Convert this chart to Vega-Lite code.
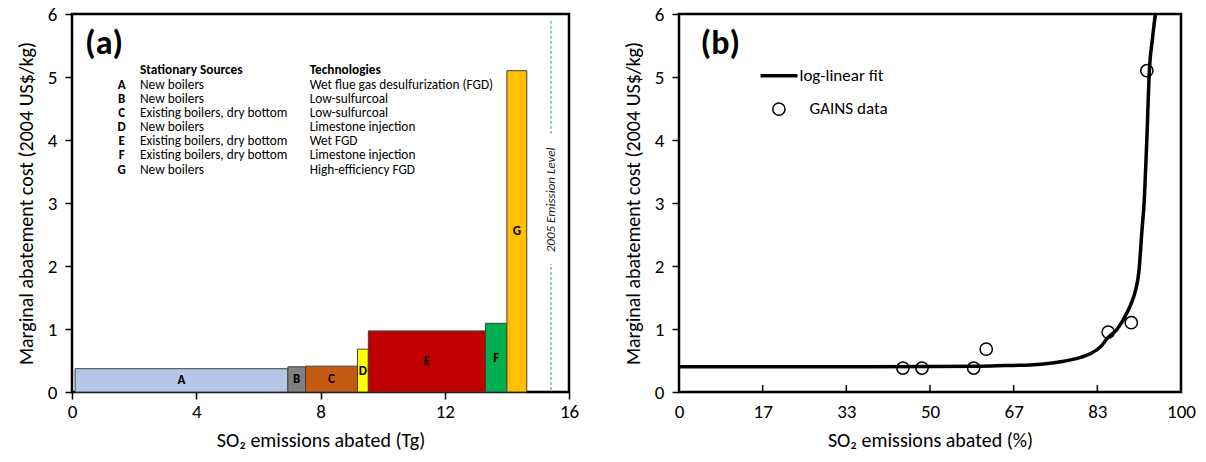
{
  "$schema": "https://vega.github.io/schema/vega-lite/v6.json",
  "padding": {"left": 15, "top": 3, "right": 5, "bottom": 5},
  "spacing": 42,
  "config": {
    "font": "Carlito, Lato, sans-serif",
    "view": {"stroke": "#000", "strokeWidth": 2.5},
    "axis": {"domain": false, "grid": false, "labelFontSize": 19, "titleFontSize": 20, "titleFontWeight": "normal", "labelColor": "#000", "titleColor": "#000", "tickColor": "#000", "tickWidth": 1.5, "tickSize": 7, "labelPadding": 3, "labelFlush": false, "zindex": 1},
    "axisY": {"labelPadding": 8, "titlePadding": 11},
    "axisX": {"titlePadding": 9}
  },
  "datasets": {
    "bars": [
      {"id": "A", "x0": 0.1, "x1": 6.95, "cost": 0.37},
      {"id": "B", "x0": 6.95, "x1": 7.52, "cost": 0.4},
      {"id": "C", "x0": 7.52, "x1": 9.19, "cost": 0.41},
      {"id": "D", "x0": 9.19, "x1": 9.54, "cost": 0.68},
      {"id": "E", "x0": 9.54, "x1": 13.31, "cost": 0.97},
      {"id": "F", "x0": 13.31, "x1": 14.0, "cost": 1.09},
      {"id": "G", "x0": 14.0, "x1": 14.64, "cost": 5.1}
    ],
    "legendA": [
      {"k": "A", "src": "New boilers", "tech": "Wet flue gas desulfurization (FGD)", "y": 4.87},
      {"k": "B", "src": "New boilers", "tech": "Low-sulfurcoal", "y": 4.65},
      {"k": "C", "src": "Existing boilers, dry bottom", "tech": "Low-sulfurcoal", "y": 4.43},
      {"k": "D", "src": "New boilers", "tech": "Limestone injection", "y": 4.21},
      {"k": "E", "src": "Existing boilers, dry bottom", "tech": "Wet FGD", "y": 3.99},
      {"k": "F", "src": "Existing boilers, dry bottom", "tech": "Limestone injection", "y": 3.76},
      {"k": "G", "src": "New boilers", "tech": "High-efficiency FGD", "y": 3.53}
    ],
    "emission": [
      {"x": 15.42, "y1": 0.03, "y2": 2.03},
      {"x": 15.42, "y1": 4.1, "y2": 5.92}
    ],
    "curve": [
      {"pct": 0, "cost": 0.4}, {"pct": 30, "cost": 0.4}, {"pct": 50, "cost": 0.405},
      {"pct": 60, "cost": 0.41}, {"pct": 65, "cost": 0.42}, {"pct": 70, "cost": 0.43},
      {"pct": 73, "cost": 0.45}, {"pct": 76, "cost": 0.48}, {"pct": 78, "cost": 0.51},
      {"pct": 80, "cost": 0.55}, {"pct": 82, "cost": 0.61}, {"pct": 84, "cost": 0.72},
      {"pct": 85.3, "cost": 0.85}, {"pct": 87.3, "cost": 1.0}, {"pct": 88.6, "cost": 1.16},
      {"pct": 89.9, "cost": 1.37}, {"pct": 90.9, "cost": 1.6}, {"pct": 91.6, "cost": 1.9},
      {"pct": 92.2, "cost": 2.54}, {"pct": 92.7, "cost": 3.07}, {"pct": 93.2, "cost": 4.02},
      {"pct": 93.7, "cost": 5.1}, {"pct": 94.3, "cost": 5.6}, {"pct": 94.9, "cost": 6.0}
    ],
    "gains": [
      {"pct": 44.6, "cost": 0.38}, {"pct": 48.4, "cost": 0.38}, {"pct": 58.7, "cost": 0.38},
      {"pct": 61.2, "cost": 0.68}, {"pct": 85.5, "cost": 0.95}, {"pct": 90.1, "cost": 1.1},
      {"pct": 93.2, "cost": 5.1}
    ],
    "ticksB": [
      {"t": 16.6667}, {"t": 33.3333}, {"t": 50}, {"t": 66.6667}, {"t": 83.3333}
    ]
  },
  "hconcat": [
    {
      "width": 497,
      "height": 378,
      "layer": [
        {
          "data": {"name": "bars"},
          "mark": {"type": "rect", "stroke": "#404040", "strokeWidth": 1},
          "encoding": {
            "x": {"field": "x0", "type": "quantitative", "scale": {"domain": [0, 16], "nice": false}, "axis": {"values": [0, 4, 8, 12, 16], "title": "SO₂ emissions abated (Tg)"}},
            "x2": {"field": "x1"},
            "y": {"field": "cost", "type": "quantitative", "scale": {"domain": [0, 6], "nice": false}, "axis": {"values": [0, 1, 2, 3, 4, 5, 6], "format": "d", "title": "Marginal abatement cost (2004 US$/kg)"}},
            "y2": {"datum": 0},
            "color": {"field": "id", "type": "nominal", "legend": null, "scale": {"domain": ["A", "B", "C", "D", "E", "F", "G"], "range": ["#B4C7E7", "#808080", "#C55A11", "#FFFF00", "#C00000", "#00B050", "#FFC000"]}}
          }
        },
        {
          "data": {"name": "bars"},
          "transform": [{"calculate": "(datum.x0 + datum.x1) / 2", "as": "xm"}, {"calculate": "datum.cost / 2", "as": "ym"}],
          "mark": {"type": "text", "fontWeight": "bold", "fontSize": 13, "color": "#000", "baseline": "middle"},
          "encoding": {
            "x": {"field": "xm", "type": "quantitative"},
            "y": {"field": "ym", "type": "quantitative"},
            "text": {"field": "id"}
          }
        },
        {
          "data": {"name": "emission"},
          "mark": {"type": "rule", "stroke": "#5B9BD5", "color": "#5B9BD5", "strokeWidth": 1.2, "strokeDash": [3, 2]},
          "encoding": {
            "x": {"field": "x", "type": "quantitative"},
            "y": {"field": "y1", "type": "quantitative"},
            "y2": {"field": "y2"}
          }
        },
        {
          "data": {"values": [{"t": "2005 Emission Level"}]},
          "mark": {"type": "text", "angle": 270, "fontStyle": "italic", "fontSize": 13, "color": "#222", "baseline": "middle", "align": "center"},
          "encoding": {
            "x": {"datum": 15.42, "type": "quantitative"},
            "y": {"datum": 3.05, "type": "quantitative"},
            "text": {"field": "t"}
          }
        },
        {
          "data": {"name": "legendA"},
          "mark": {"type": "text", "fontWeight": "bold", "fontSize": 13, "color": "#000", "align": "center", "baseline": "middle"},
          "encoding": {
            "x": {"datum": 1.6, "type": "quantitative"},
            "y": {"field": "y", "type": "quantitative"},
            "text": {"field": "k"}
          }
        },
        {
          "data": {"name": "legendA"},
          "mark": {"type": "text", "fontSize": 13.3, "color": "#000", "align": "left", "baseline": "middle"},
          "encoding": {
            "x": {"datum": 2.19, "type": "quantitative"},
            "y": {"field": "y", "type": "quantitative"},
            "text": {"field": "src"}
          }
        },
        {
          "data": {"name": "legendA"},
          "mark": {"type": "text", "fontSize": 13.3, "color": "#000", "align": "left", "baseline": "middle"},
          "encoding": {
            "x": {"datum": 7.65, "type": "quantitative"},
            "y": {"field": "y", "type": "quantitative"},
            "text": {"field": "tech"}
          }
        },
        {
          "data": {"values": [{"t": "Stationary Sources", "x": 2.19}, {"t": "Technologies", "x": 7.65}]},
          "mark": {"type": "text", "fontWeight": "bold", "fontSize": 13.3, "color": "#000", "align": "left", "baseline": "middle"},
          "encoding": {
            "x": {"field": "x", "type": "quantitative"},
            "y": {"datum": 5.11, "type": "quantitative"},
            "text": {"field": "t"}
          }
        },
        {
          "data": {"values": [{"t": "(a)"}]},
          "mark": {"type": "text", "fontWeight": "bold", "fontSize": 34, "color": "#000", "align": "left", "baseline": "middle"},
          "encoding": {
            "x": {"datum": 0.42, "type": "quantitative"},
            "y": {"datum": 5.52, "type": "quantitative"},
            "text": {"field": "t"}
          }
        }
      ]
    },
    {
      "width": 502,
      "height": 378,
      "layer": [
        {
          "data": {"name": "curve"},
          "mark": {"type": "line", "color": "#000", "strokeWidth": 3.5, "interpolate": "monotone", "clip": true},
          "encoding": {
            "x": {"field": "pct", "type": "quantitative", "scale": {"domain": [0, 100], "nice": false}, "axis": {"values": [0, 16.6667, 33.3333, 50, 66.6667, 83.3333, 100], "format": ".0f", "ticks": false, "labelPadding": 10, "title": "SO₂ emissions abated (%)"}},
            "y": {"field": "cost", "type": "quantitative", "scale": {"domain": [0, 6], "nice": false}, "axis": {"values": [0, 1, 2, 3, 4, 5, 6], "format": "d", "title": "Marginal abatement cost (2004 US$/kg)"}}
          }
        },
        {
          "data": {"name": "ticksB"},
          "mark": {"type": "rule", "color": "#000", "strokeWidth": 1.5},
          "encoding": {
            "x": {"field": "t", "type": "quantitative"},
            "y": {"datum": 0, "type": "quantitative"},
            "y2": {"datum": 0.11}
          }
        },
        {
          "data": {"name": "gains"},
          "mark": {"type": "point", "shape": "circle", "filled": false, "stroke": "#000", "strokeWidth": 1.5, "size": 150, "opacity": 1},
          "encoding": {
            "x": {"field": "pct", "type": "quantitative"},
            "y": {"field": "cost", "type": "quantitative"}
          }
        },
        {
          "data": {"values": [{"x1": 16.25, "x2": 23.6, "y": 5.02}]},
          "mark": {"type": "rule", "color": "#000", "strokeWidth": 3.5},
          "encoding": {
            "x": {"field": "x1", "type": "quantitative"},
            "x2": {"field": "x2"},
            "y": {"field": "y", "type": "quantitative"}
          }
        },
        {
          "data": {"values": [{"x": 19.9, "y": 4.49}]},
          "mark": {"type": "point", "shape": "circle", "filled": false, "stroke": "#000", "strokeWidth": 1.5, "size": 150, "opacity": 1},
          "encoding": {
            "x": {"field": "x", "type": "quantitative"},
            "y": {"field": "y", "type": "quantitative"}
          }
        },
        {
          "data": {"values": [{"t": "log-linear fit", "x": 24.0, "y": 5.02}, {"t": "GAINS data", "x": 26.0, "y": 4.49}]},
          "mark": {"type": "text", "fontSize": 17, "color": "#000", "align": "left", "baseline": "middle"},
          "encoding": {
            "x": {"field": "x", "type": "quantitative"},
            "y": {"field": "y", "type": "quantitative"},
            "text": {"field": "t"}
          }
        },
        {
          "data": {"values": [{"t": "(b)"}]},
          "mark": {"type": "text", "fontWeight": "bold", "fontSize": 34, "color": "#000", "align": "left", "baseline": "middle"},
          "encoding": {
            "x": {"datum": 4.3, "type": "quantitative"},
            "y": {"datum": 5.52, "type": "quantitative"},
            "text": {"field": "t"}
          }
        }
      ]
    }
  ]
}
